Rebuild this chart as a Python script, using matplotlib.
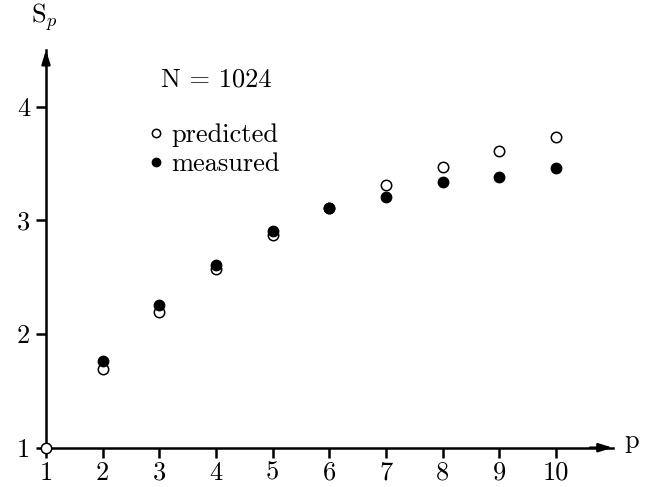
import matplotlib
matplotlib.use("Agg")
import matplotlib.pyplot as plt

plt.rcParams["font.family"] = "serif"
plt.rcParams["font.serif"] = ["cmr10"]
plt.rcParams["mathtext.fontset"] = "cm"
plt.rcParams["axes.formatter.use_mathtext"] = True

# data
p_pred = [1, 2, 3, 4, 5, 6, 7, 8, 9, 10]
s_pred = [1.00, 1.69, 2.19, 2.57, 2.87, 3.11, 3.31, 3.47, 3.61, 3.73]
p_meas = [2, 3, 4, 5, 6, 7, 8, 9, 10]
s_meas = [1.76, 2.26, 2.61, 2.91, 3.11, 3.21, 3.34, 3.38, 3.46]
x_ticks = [1, 2, 3, 4, 5, 6, 7, 8, 9, 10]
y_ticks = [1, 2, 3, 4]

fig = plt.figure(figsize=(6.47, 4.87), dpi=100)
W, H = 647, 487
x0, x1 = 46, 612.7
y0, y1 = 447.7, 50
ax = fig.add_axes([x0 / W, 1 - y0 / H, (x1 - x0) / W, (y0 - y1) / H])

ax.plot(p_pred, s_pred, "o", mfc="white", mec="black", mew=1.1, ms=7.5,
        clip_on=False, zorder=3, label="predicted")
ax.plot(p_meas, s_meas, "o", mfc="black", mec="black", ms=7.5,
        clip_on=False, zorder=4, label="measured")

ax.set_xlim(1, 11)
ax.set_ylim(1, 4.5)
ax.set_xticks(x_ticks)
ax.set_yticks(y_ticks)
ax.set_xticklabels([str(v) for v in x_ticks])
ax.set_yticklabels([str(v) for v in y_ticks])

fs = 19
for s in ["top", "right"]:
    ax.spines[s].set_visible(False)
for s in ["left", "bottom"]:
    ax.spines[s].set_linewidth(1.8)
ax.tick_params(axis="both", direction="out", length=7.5, width=1.8, labelsize=fs)
ax.tick_params(axis="x", pad=2)
ax.tick_params(axis="y", pad=4)

# arrow heads
ax.annotate("", xy=(1.0, 0), xytext=(0.96, 0), xycoords="axes fraction",
            arrowprops=dict(arrowstyle="-|>,head_length=0.8,head_width=0.25",
                            color="black", lw=1.8, shrinkA=0, shrinkB=0))
ax.annotate("", xy=(0, 1.0), xytext=(0, 0.96), xycoords="axes fraction",
            arrowprops=dict(arrowstyle="-|>,head_length=0.8,head_width=0.25",
                            color="black", lw=1.8, shrinkA=0, shrinkB=0))

fig.text(31 / W, 1 - 17 / H, r"S$_p$", fontsize=fs, va="center", ha="left")
fig.text(624 / W, 1 - 441 / H, "p", fontsize=fs, va="center", ha="left")

ax.text(0.30, 0.925, "N = 1024", transform=ax.transAxes, fontsize=fs,
        ha="center", va="center")
ax.legend(loc="upper left", bbox_to_anchor=(0.17, 0.815), frameon=False,
          fontsize=fs, handletextpad=0.1, handlelength=1.0, markerscale=0.8,
          labelspacing=0.18, borderaxespad=0, borderpad=0)

fig.savefig("out.png", dpi=100)
